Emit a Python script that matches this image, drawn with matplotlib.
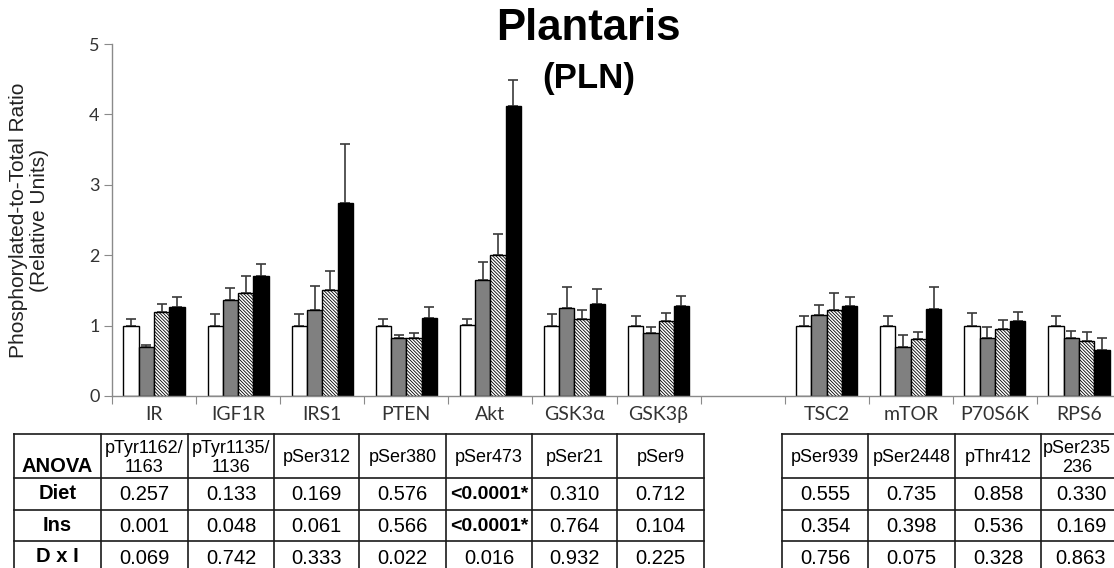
import numpy as np
import matplotlib.pyplot as plt

# categories shown on the x axis (slot 7 is left empty in the figure)
categories = ['IR', 'IGF1R', 'IRS1', 'PTEN', 'Akt', 'GSK3α', 'GSK3β',
              'TSC2', 'mTOR', 'P70S6K', 'RPS6']
slots = [0, 1, 2, 3, 4, 5, 6, 8, 9, 10, 11]

white = [1.00, 1.00, 1.00, 1.00, 1.01, 1.00, 1.00, 1.00, 1.00, 1.00, 1.00]
white_err = [0.09, 0.17, 0.17, 0.10, 0.08, 0.16, 0.14, 0.13, 0.14, 0.18, 0.13]
gray = [0.70, 1.37, 1.22, 0.82, 1.65, 1.25, 0.89, 1.15, 0.70, 0.82, 0.83]
gray_err = [0.02, 0.16, 0.34, 0.04, 0.26, 0.30, 0.09, 0.14, 0.16, 0.16, 0.09]
hatched = [1.19, 1.47, 1.51, 0.82, 2.00, 1.09, 1.07, 1.22, 0.81, 0.95, 0.78]
hatched_err = [0.11, 0.24, 0.27, 0.08, 0.30, 0.13, 0.11, 0.25, 0.10, 0.13, 0.13]
black = [1.26, 1.70, 2.74, 1.11, 4.12, 1.30, 1.28, 1.28, 1.23, 1.07, 0.65]
black_err = [0.15, 0.17, 0.84, 0.15, 0.37, 0.22, 0.14, 0.13, 0.32, 0.12, 0.18]

# ANOVA table under the chart
sites = ['pTyr1162/\n1163', 'pTyr1135/\n1136', 'pSer312', 'pSer380', 'pSer473',
         'pSer21', 'pSer9', 'pSer939', 'pSer2448', 'pThr412', 'pSer235\n236']
diet_p = ['0.257', '0.133', '0.169', '0.576', '<0.0001*', '0.310', '0.712',
          '0.555', '0.735', '0.858', '0.330']
ins_p = ['0.001', '0.048', '0.061', '0.566', '<0.0001*', '0.764', '0.104',
         '0.354', '0.398', '0.536', '0.169']
dxi_p = ['0.069', '0.742', '0.333', '0.022', '0.016', '0.932', '0.225',
         '0.756', '0.075', '0.328', '0.863']
row_names = ['Diet', 'Ins', 'D x I']

W, H = 1114, 568
plt.rcParams['hatch.linewidth'] = 0.6
fig = plt.figure(figsize=(W/100, H/100), dpi=100)

# chart axes: x from 112 px to 1121 px, y from 396 px (0) to 44 px (5)
ax = fig.add_axes([112/W, (H-396)/H, 1009/W, 352/H])
bw = 0.182
series = [(white, white_err, 'white', ''),
          (gray, gray_err, '#808080', ''),
          (hatched, hatched_err, 'white', '\\' * 10),
          (black, black_err, 'black', '')]
x0 = np.array(slots) + 0.5
for j, (vals, errs, col, hat) in enumerate(series):
    xs = x0 + (j - 1.5)*bw
    ax.bar(xs, vals, bw, color=col, edgecolor='black', linewidth=1.0, hatch=hat, zorder=2)
    ax.errorbar(xs, vals, yerr=[np.zeros(len(errs)), errs], fmt='none',
                ecolor='#3a3a3a', elinewidth=1.2, capsize=3.3, capthick=1.2, zorder=1)

ax.set_xlim(0, 12)
ax.set_ylim(0, 5)
for s in ['top', 'right']:
    ax.spines[s].set_visible(False)
for s in ['left', 'bottom']:
    ax.spines[s].set_color('#8a8a8a')
    ax.spines[s].set_linewidth(1.0)
ax.set_yticks(range(6))
ax.tick_params(axis='y', colors='#8a8a8a', length=6, labelcolor='#333333',
               labelsize=13, pad=3)
ax.set_xticks(range(13))
ax.set_xticklabels([])
ax.tick_params(axis='x', which='major', colors='#8a8a8a', length=6)
ax.set_xticks(x0, minor=True)
ax.set_xticklabels(categories, minor=True)
ax.tick_params(axis='x', which='minor', length=0, pad=7, labelsize=14, labelcolor='#333333')
for lab in ax.get_yticklabels() + ax.get_xticklabels(minor=True):
    lab.set_family(['Lato', 'DejaVu Sans'])

# overlay in pixel coordinates for titles and the table
ov = fig.add_axes([0, 0, 1, 1])
ov.set_xlim(0, W)
ov.set_ylim(H, 0)
ov.axis('off')
ov.patch.set_alpha(0)

ov.text(588, 40, 'Plantaris', ha='center', va='baseline', fontsize=31.5,
        fontweight='bold', family='Liberation Sans')
ov.text(589, 88, '(PLN)', ha='center', va='baseline', fontsize=25,
        fontweight='bold', family='Liberation Sans')
ov.text(29, 220, 'Phosphorylated-to-Total Ratio\n(Relative Units)', rotation=90,
        ha='center', va='center', multialignment='center', fontsize=15,
        family='Liberation Sans', color='#222222', linespacing=1.1)

left_cols = [14, 101, 188, 274, 359, 446, 532, 617, 704]
right_cols = [782, 868, 955, 1041, 1121]
rows = [434, 478, 509.5, 541, 573]
lw = 1.2
for cols in (left_cols, right_cols):
    for xc in cols:
        ov.plot([xc, xc], [rows[0], rows[-1]], color='#1a1a1a', lw=lw)
    for yr in rows:
        ov.plot([cols[0], cols[-1]], [yr, yr], color='#1a1a1a', lw=lw)

ov.text((left_cols[0]+left_cols[1])/2, 467, 'ANOVA', ha='center', va='center',
        fontsize=14.5, fontweight='bold', family='Liberation Sans')
for r, name in enumerate(row_names):
    ov.text((left_cols[0]+left_cols[1])/2, (rows[r+1]+rows[r+2])/2, name,
            ha='center', va='center', fontsize=14.5, fontweight='bold',
            family='Liberation Sans')

centers = [(left_cols[k]+left_cols[k+1])/2 for k in range(1, 8)] + \
          [(right_cols[k]+right_cols[k+1])/2 for k in range(4)]
for c, xc in enumerate(centers):
    hx = min(xc, 1077)
    ov.text(hx, (rows[0]+rows[1])/2 + 2, sites[c], ha='center', va='center',
            fontsize=13, family='Liberation Sans', linespacing=1.08)
    for r, vals in enumerate([diet_p, ins_p, dxi_p]):
        v = vals[c]
        ov.text(xc, (rows[r+1]+rows[r+2])/2 + 1, v, ha='center', va='center',
                fontsize=14.5 if not v.startswith('<') else 14, family='Liberation Sans',
                fontweight='bold' if v.startswith('<') else 'normal')

fig.savefig('out.png', dpi=100)
